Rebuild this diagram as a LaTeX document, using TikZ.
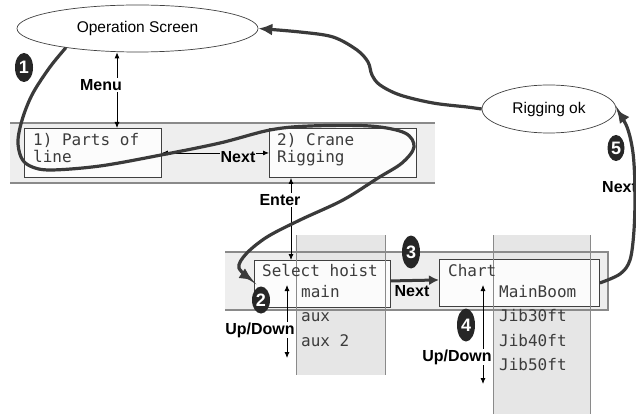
\documentclass[tikz,border=0pt]{standalone}
\usepackage{fontspec}
\setmainfont{Liberation Sans}
\newfontfamily\monofont{DejaVu Sans Mono}
\usetikzlibrary{arrows.meta,shapes.geometric,calc}

\definecolor{bandgray}{HTML}{EEEEEE}
\definecolor{colgray}{HTML}{E6E6E6}
\definecolor{edgegray}{HTML}{8A8A8A}
\definecolor{curvecol}{HTML}{3A3A3A}
\definecolor{badgecol}{HTML}{262626}
\definecolor{monocol}{HTML}{3C3C3C}

\begin{document}
\begin{tikzpicture}[x=1pt,y=-1pt,
  oval/.style={ellipse, draw=black!75, line width=0.7pt, fill=white, inner sep=0pt, font=\fontsize{15.5}{18}\selectfont},
  screenbox/.style={draw=black!75, line width=0.9pt, fill=white, fill opacity=0.85, inner sep=0pt, anchor=north west},
  mono/.style={anchor=base west, inner sep=0pt, text=monocol, font=\monofont\fontsize{16}{16}\selectfont},
  keylabel/.style={font=\bfseries\fontsize{16}{16}\selectfont, inner sep=1pt},
  badge/.style={ellipse, fill=badgecol, text=white, inner sep=0pt, font=\bfseries\fontsize{18}{18}\selectfont},
  thinarrow/.style={line width=0.8pt, {Latex[length=6pt,width=5pt]}-{Latex[length=6pt,width=5pt]}},
  flow/.style={line width=3.2pt, draw=curvecol, -{Latex[length=14pt,width=12pt]}},
  bandline/.style={draw=edgegray, line width=1.3pt},
  colline/.style={draw=edgegray, line width=1pt},
]
\clip (0,0) rectangle (636,414);
\fill[white] (0,0) rectangle (636,414);

% bands and columns
\fill[bandgray] (10,123) rectangle (435,183);
\draw[bandline] (10,123) -- (435,123);
\draw[bandline] (10,183) -- (435,183);
\fill[bandgray] (225,252) rectangle (608,310);
\fill[colgray] (296,235) rectangle (385,375);
\fill[colgray] (493,235) rectangle (590,414);
\draw[bandline] (225,252) -- (608,252) -- (608,310) -- (225,310);

% ovals
\node[oval, minimum width=241pt, minimum height=47pt] (op) at (137.5,28.5) {Operation Screen\hspace{28pt}};
\node[oval, minimum width=134pt, minimum height=48pt] (rig) at (549,109) {Rigging ok};

% screen boxes
\node[screenbox, minimum width=137pt, minimum height=49pt] (b1) at (24,128) {};
\node[screenbox, minimum width=147pt, minimum height=49pt] (b2) at (269,128) {};
\node[screenbox, minimum width=136pt, minimum height=47pt] (sel) at (253.5,260) {};
\node[screenbox, minimum width=160pt, minimum height=47pt] (chart) at (439,259) {};

% column edges over boxes
\draw[colline] (296,235) -- (296,375);
\draw[colline] (385,235) -- (385,375);
\draw[colline] (493,235) -- (493,414);
\draw[colline] (590,235) -- (590,414);

% screen texts
\node[mono] (t1a) at (33,146) {1) Parts of};
\node[mono] (t1b) at (33,162) {line};
\node[mono] (t2a) at (277,146) {2) Crane};
\node[mono] (t2b) at (277,162) {Rigging};
\node[mono] (t3a) at (262,276) {Select hoist};
\node[mono] (t3b) at (301,297) {main};
\node[mono] (t3c) at (301,321) {aux};
\node[mono] (t3d) at (301,346) {aux 2};
\node[mono] (t4a) at (448,276) {Chart};
\node[mono] (t4b) at (499,297) {MainBoom};
\node[mono] (t4c) at (499,321) {Jib30ft};
\node[mono] (t4d) at (499,346) {Jib40ft};
\node[mono] (t4e) at (499,370) {Jib50ft};

% thin key arrows
\coordinate (mx) at (117,0);
\coordinate (ex) at (291,0);
\coordinate (u1a) at (287,285);
\coordinate (u1b) at (287,358);
\coordinate (u2a) at (483,285);
\coordinate (u2b) at (483,384);
\draw[thinarrow] (op.south -| mx) -- (b1.north -| mx);
\draw[thinarrow] (b1.east) -- (b2.west);
\draw[thinarrow] (b2.south -| ex) -- (sel.north -| ex);
\draw[thinarrow] (u1a) -- (u1b);
\draw[thinarrow] (u2a) -- (u2b);
\draw[line width=3pt, draw=curvecol, -{Latex[length=10pt,width=10pt]}] ([yshift=3pt]sel.east) -- ([yshift=3pt]chart.west);

\node[keylabel, fill=white] (lmenu) at (101,85) {Menu};
\node[keylabel, fill=bandgray] (lnext1) at (238,157) {Next};
\node[keylabel, fill=white] (lenter) at (280,200) {Enter};
\node[keylabel, fill=white] (lud1) at (260,330) {Up/Down};
\node[keylabel] (lnext2) at (412,291) {Next};
\node[keylabel, fill=white] (lud2) at (457,357) {Up/Down};
\node[keylabel, anchor=west] (lnext3) at (601,187) {Next};

% big flow curves
\coordinate (c1end) at ($(sel.west)+(0,-3)$);
\draw[flow] plot[smooth, tension=0.55] coordinates {(op.195) (50,67) (33,93) (23,117) (18,140) (21,157) (30,166) (50,170) (100,166) (161,155) (220,143) (270,130) (310,126) (370,126) (405,133) (414,147) (402,163) (378,178) (343,200) (300,220) (267,237) (246,254) (239,268) (c1end)};
\draw[flow] plot[smooth, tension=0.55] coordinates {(rig.west) (467,107) (433,103) (400,95) (380,85) (372,75) (368,62) (357,50) (333,37) (300,32) (op.east)};
\draw[flow] plot[smooth, tension=0.55] coordinates {(chart.east) (620,274) (630,260) (634,230) (635,190) (633,153) (627,127) (rig.east)};

% badges
\node[badge, minimum width=18pt, minimum height=29pt] (n1) at (24,67.5) {1};
\node[badge, minimum width=18pt, minimum height=27pt] (n2) at (261,300) {2};
\node[badge, minimum width=18pt, minimum height=33pt] (n3) at (411,252) {3};
\node[badge, minimum width=18pt, minimum height=33pt] (n4) at (466,325) {4};
\node[badge, minimum width=17pt, minimum height=26pt] (n5) at (616,148) {5};
\end{tikzpicture}
\end{document}
